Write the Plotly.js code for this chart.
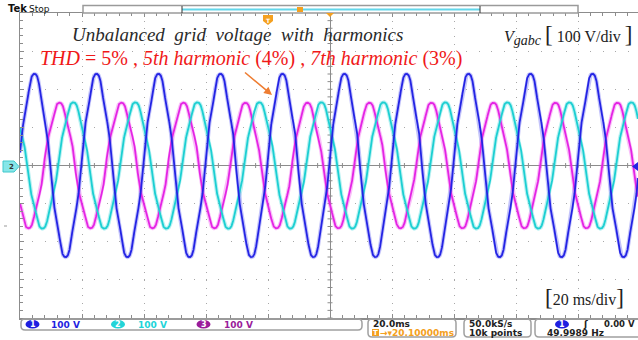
<!DOCTYPE html>
<html>
<head>
<meta charset="utf-8">
<script src="https://cdn.plot.ly/plotly-3.0.1.min.js"></script>
<style>
  html, body { margin: 0; padding: 0; background: #fff; }
  #scope { width: 638px; height: 340px; }
</style>
</head>
<body>
<div id="scope"></div>
<script>
// ---- channel data (three grid phase voltages) ----
const channelNames = ['1', '2', '3'];
const channelColors = ['#2424e4', '#1ccfd2', '#e424e4'];
const channelGlow = ['rgba(70,70,240,0.32)', 'rgba(40,212,215,0.32)', 'rgba(236,60,236,0.32)'];
const badgeColors = ['#1f1fe0', '#22d4d8', '#9a1c9a'];
const scaleLabels = ['100 V', '100 V', '100 V'];
const fundamentalPeakV = [238, 164, 163];      // fundamental peak per phase
const fundamentalPhaseDeg = [6, 140, -139];    // phase angle at screen centre
const harmonicOrders = [5, 7];
const harmonicPercent = [4, 3];                // 5th 4 %, 7th 3 %  -> THD 5 %
const fundamentalHz = 50;
const sampleStepMs = 0.05;
const timeWindowMs = [-100, 99.35];
const voltRange = [-400, 400];
const voltsPerDiv = 100;
const msPerDiv = 20;

// ---- screen geometry helpers (pixel -> paper) ----
const plotL = 20, plotT = 13, plotR = 638, plotB = 318;
const fx = x => (x - plotL) / (plotR - plotL);
const fy = y => (plotB - y) / (plotB - plotT);
const pathPx = pts => 'M' + pts.map(p => fx(p[0]) + ',' + fy(p[1])).join(' L') + ' Z';
function roundRect(x0, y0, x1, y1, r) {
  const X = fx, Y = fy;
  return `M${X(x0 + r)},${Y(y0)} L${X(x1 - r)},${Y(y0)} Q${X(x1)},${Y(y0)} ${X(x1)},${Y(y0 + r)} ` +
         `L${X(x1)},${Y(y1 - r)} Q${X(x1)},${Y(y1)} ${X(x1 - r)},${Y(y1)} L${X(x0 + r)},${Y(y1)} ` +
         `Q${X(x0)},${Y(y1)} ${X(x0)},${Y(y1 - r)} L${X(x0)},${Y(y0 + r)} Q${X(x0)},${Y(y0)} ${X(x0 + r)},${Y(y0)} Z`;
}

// ---- waveforms ----
const times = [];
const nSamples = Math.round((timeWindowMs[1] - timeWindowMs[0]) / sampleStepMs);
for (let i = 0; i <= nSamples; i++) times.push(timeWindowMs[0] + i * sampleStepMs);

function phaseVoltage(ch) {
  const A = fundamentalPeakV[ch];
  const ph = fundamentalPhaseDeg[ch] * Math.PI / 180;
  return times.map(t => {
    const th = 2 * Math.PI * fundamentalHz * t / 1000 + ph;
    let v = Math.sin(th);
    harmonicOrders.forEach((h, k) => { v += harmonicPercent[k] / 100 * Math.sin(h * th); });
    return A * v;
  });
}

const drawOrder = [2, 1, 0];
const volts = channelNames.map((_, ch) => phaseVoltage(ch));
const traces = [];
drawOrder.forEach(ch => traces.push({
  x: times, y: volts[ch], type: 'scatter', mode: 'lines',
  line: { color: channelGlow[ch], width: 4 }, hoverinfo: 'skip', showlegend: false
}));
drawOrder.forEach(ch => traces.push({
  x: times, y: volts[ch], type: 'scatter', mode: 'lines', name: 'CH' + channelNames[ch],
  line: { color: channelColors[ch], width: 1.8 }, hoverinfo: 'skip', showlegend: false
}));

// ---- graticule centre-line ticks ----
const shapes = [];
const vPerPx = (voltRange[1] - voltRange[0]) / (plotB - plotT);
const msPerPx = (timeWindowMs[1] - timeWindowMs[0]) / (plotR - plotL);
for (let t = -100; t < timeWindowMs[1]; t += msPerDiv / 5) {
  shapes.push({ type: 'line', xref: 'x', yref: 'y', x0: t, x1: t, y0: -2.5 * vPerPx, y1: 2.5 * vPerPx,
                line: { color: '#8c8c8c', width: 1 }, layer: 'below' });
}
for (let v = voltRange[0]; v <= voltRange[1]; v += voltsPerDiv / 5) {
  shapes.push({ type: 'line', xref: 'x', yref: 'y', y0: v, y1: v, x0: -2.5 * msPerPx, x1: 2.5 * msPerPx,
                line: { color: '#8c8c8c', width: 1 }, layer: 'below' });
}

// ---- record bar across the top ----
const P = { xref: 'paper', yref: 'paper', layer: 'above' };
shapes.push(Object.assign({ type: 'rect', x0: fx(83), x1: fx(578), y0: fy(13), y1: fy(5.5),
  line: { color: '#9a9a9a', width: 1.5 }, fillcolor: '#ffffff' }, P));
shapes.push(Object.assign({ type: 'line', x0: fx(182), x1: fx(480), y0: fy(9.5), y1: fy(9.5),
  line: { color: '#62d6ea', width: 2 } }, P));
[182, 480].forEach(x => shapes.push(Object.assign({ type: 'line', x0: fx(x), x1: fx(x), y0: fy(6), y1: fy(13),
  line: { color: '#333333', width: 1 } }, P)));
shapes.push(Object.assign({ type: 'rect', x0: fx(297), x1: fx(303), y0: fy(12), y1: fy(7),
  line: { width: 0 }, fillcolor: '#f4a020' }, P));
shapes.push(Object.assign({ type: 'path', path: pathPx([[326, 13], [334, 13], [330, 17]]),
  line: { width: 0 }, fillcolor: '#f4a020' }, P));
shapes.push(Object.assign({ type: 'path', path: pathPx([[263, 15], [273, 15], [273, 21], [268, 25], [263, 21]]),
  line: { width: 0 }, fillcolor: '#f4a020' }, P));

// ground / trigger markers
shapes.push(Object.assign({ type: 'path', path: pathPx([[3, 161], [14, 161], [19, 166.5], [14, 172], [3, 172]]),
  line: { color: '#40c8cc', width: 1 }, fillcolor: '#86e6e8' }, P));
shapes.push(Object.assign({ type: 'path', path: pathPx([[638, 162], [638, 171], [632, 166.5]]),
  line: { width: 0 }, fillcolor: '#2424e4' }, P));
shapes.push(Object.assign({ type: 'line', x0: fx(4), x1: fx(7), y0: fy(226), y1: fy(226),
  line: { color: '#999999', width: 1 } }, P));

// ---- status boxes along the bottom ----
shapes.push(Object.assign({ type: 'path', path: roundRect(21, 319, 362, 330, 4),
  line: { color: '#a0a0a0', width: 1.5 }, fillcolor: 'rgba(0,0,0,0)' }, P));
shapes.push(Object.assign({ type: 'path', path: roundRect(368, 319, 456, 337, 4),
  line: { color: '#a0a0a0', width: 1.5 }, fillcolor: 'rgba(0,0,0,0)' }, P));
shapes.push(Object.assign({ type: 'path', path: roundRect(464, 319, 531, 337, 4),
  line: { color: '#a0a0a0', width: 1.5 }, fillcolor: 'rgba(0,0,0,0)' }, P));
shapes.push(Object.assign({ type: 'path', path: roundRect(535, 319, 648, 337, 4),
  line: { color: '#a0a0a0', width: 1.5 }, fillcolor: 'rgba(0,0,0,0)' }, P));

const badgeX = [32.5, 118, 203.5];
const scaleX = [50, 137, 223];
const ann = [];
function label(x, y, text, font, extra) {
  ann.push(Object.assign({ xref: 'paper', yref: 'paper', x: fx(x), y: fy(y), text: text,
    showarrow: false, xanchor: 'left', yanchor: 'middle', font: font, borderpad: 0 }, extra || {}));
}
const statusFont = (c, s) => ({ family: 'DejaVu Sans', size: s || 9, color: c, weight: 'bold' });

channelNames.forEach((n, ch) => {
  shapes.push(Object.assign({ type: 'circle', x0: fx(badgeX[ch] - 7), x1: fx(badgeX[ch] + 7),
    y0: fy(328.5), y1: fy(320), line: { width: 0 }, fillcolor: badgeColors[ch] }, P));
  label(badgeX[ch], 324.5, n, statusFont('#ffffff', 8), { xanchor: 'center' });
  label(scaleX[ch], 324.5, scaleLabels[ch], statusFont(badgeColors[ch]));
});

label(372, 324, '20.0ms', statusFont('#222222'));
shapes.push(Object.assign({ type: 'rect', x0: fx(372), x1: fx(379), y0: fy(336), y1: fy(329),
  line: { width: 0 }, fillcolor: '#f4a020' }, P));
label(375.5, 332.8, 'T', statusFont('#ffffff', 7), { xanchor: 'center' });
label(379, 333, '→▾20.10000ms', statusFont('#f4a020'));
label(468, 324, '50.0kS/s', statusFont('#222222'));
label(468, 333, '10k points', statusFont('#222222'));
shapes.push(Object.assign({ type: 'circle', x0: fx(555), x1: fx(569), y0: fy(328.5), y1: fy(320),
  line: { width: 0 }, fillcolor: '#1f1fe0' }, P));
label(562, 324.5, '1', statusFont('#ffffff', 8), { xanchor: 'center' });
label(582, 324, 'ʃ', statusFont('#222222'));
label(603, 324, '0.00 V', statusFont('#222222', 8.5));
label(546, 333, '49.9989 Hz', statusFont('#222222'));

// top-left scope state
label(7, 9, 'Tek', { family: 'DejaVu Sans', size: 10, color: '#111111', weight: 'bold' });
label(28, 9, 'Stop', { family: 'DejaVu Sans', size: 9, color: '#111111' });
label(268, 20, 'T', statusFont('#ffffff', 6), { xanchor: 'center' });
label(11, 166.5, '2', statusFont('#333333', 7), { xanchor: 'center' });

// ---- chart captions ----
const serif = 'Liberation Serif, Times New Roman, serif';
label(71, 34, '<i>Unbalanced  grid  voltage  with  harmonics</i>', { family: serif, size: 19, color: '#2a2a2a' });
label(39, 58, '<i>THD</i> = 5% , <i>5th harmonic</i> (4%) , <i>7th harmonic</i> (3%)', { family: serif, size: 20, color: '#f01818' });
label(503, 35, '<i>V</i><sub><span style="font-size:14px"><i>gabc</i></span></sub> <span style="font-size:23px">[</span> 100 V/div <span style="font-size:23px">]</span>',
  { family: serif, size: 16, color: '#222222' });
label(544, 297, '<span style="font-size:23px">[</span>20 ms/div<span style="font-size:23px">]</span>',
  { family: serif, size: 16, color: '#222222' });

// arrow pointing at a phase-a crest
ann.push({ xref: 'paper', yref: 'paper', x: fx(272), y: fy(95), ax: -30, ay: -25, text: ' ',
  showarrow: true, arrowhead: 2, arrowsize: 1, arrowwidth: 1.6, arrowcolor: '#ee7d32' });

const gridDashY = '1px,' + ((plotR - plotL) * msPerDiv / (timeWindowMs[1] - timeWindowMs[0]) / 5 - 1).toFixed(3) + 'px';
const gridDashX = '1px,' + ((plotB - plotT) / 8 / 5 - 1).toFixed(3) + 'px';

const layout = {
  width: 638, height: 340,
  margin: { l: plotL, r: 638 - plotR, t: plotT, b: 340 - plotB, pad: 0 },
  paper_bgcolor: '#ffffff', plot_bgcolor: '#ffffff',
  xaxis: {
    range: timeWindowMs, dtick: msPerDiv, tick0: 0, showticklabels: false,
    showgrid: true, gridcolor: '#a8a8a8', gridwidth: 1, griddash: gridDashX,
    zeroline: true, zerolinecolor: '#8c8c8c', zerolinewidth: 1,
    showline: true, linecolor: '#8c8c8c', linewidth: 1.5, mirror: 'ticks',
    ticks: 'inside', ticklen: 4, tickcolor: '#8c8c8c',
    minor: { dtick: msPerDiv / 5, tick0: 0, ticks: 'inside', ticklen: 3, tickcolor: '#8c8c8c', showgrid: false }
  },
  yaxis: {
    range: voltRange, dtick: voltsPerDiv, tick0: 0, showticklabels: false,
    showgrid: true, gridcolor: '#a8a8a8', gridwidth: 1, griddash: gridDashY,
    zeroline: true, zerolinecolor: '#8c8c8c', zerolinewidth: 1,
    showline: true, linecolor: '#8c8c8c', linewidth: 1.5, mirror: false,
    ticks: 'inside', ticklen: 4, tickcolor: '#8c8c8c',
    minor: { dtick: voltsPerDiv / 5, tick0: 0, ticks: 'inside', ticklen: 3, tickcolor: '#8c8c8c', showgrid: false }
  },
  shapes: shapes,
  annotations: ann,
  showlegend: false
};

Plotly.newPlot('scope', traces, layout, { staticPlot: true, displayModeBar: false });
</script>
</body>
</html>
